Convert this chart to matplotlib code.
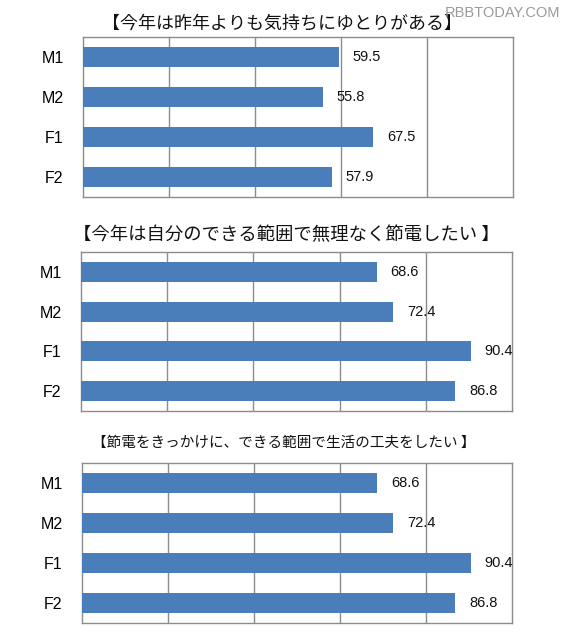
import matplotlib
matplotlib.use("Agg")
import matplotlib.pyplot as plt

categories = ["M1", "M2", "F1", "F2"]
titles = [
    "【今年は昨年よりも気持ちにゆとりがある】",
    "【今年は自分のできる範囲で無理なく節電したい 】",
    "【節電をきっかけに、できる範囲で生活の工夫をしたい 】",
]
values_1 = [59.5, 55.8, 67.5, 57.9]
values_2 = [68.6, 72.4, 90.4, 86.8]
values_3 = [68.6, 72.4, 90.4, 86.8]
series = [values_1, values_2, values_3]

W, H = 568, 640
fig = plt.figure(figsize=(W / 100, H / 100), dpi=100)
fig.patch.set_facecolor("white")

# panel boxes in pixels: left, right, top, bottom
boxes = [(83, 513, 37, 197), (81, 512, 252, 411), (82, 512, 463, 623)]
# title centers (px) and sizes (pt)
title_pos = [(282, 24, 12.95), (286, 235, 13.2), (284, 443, 10.5)]

bar_color = "#4A7EBB"
grid_color = "#8C8C8C"
jp = ["Noto Sans CJK JP", "DejaVu Sans"]

for vals, (l, r, t, b), title, (tx, ty, ts) in zip(series, boxes, titles, title_pos):
    ax = fig.add_axes([l / W, 1 - b / H, (r - l) / W, (b - t) / H])
    ypos = list(range(len(categories)))
    ax.barh(ypos, vals, height=0.5, color=bar_color, zorder=3)
    ax.set_xlim(0, 100)
    ax.set_ylim(len(categories) - 0.5, -0.5)
    ax.set_xticks([20, 40, 60, 80])
    ax.set_xticklabels([])
    ax.tick_params(axis="x", length=0)
    ax.grid(axis="x", color=grid_color, linewidth=1.0, zorder=1)
    ax.set_yticks(ypos)
    ax.set_yticklabels(categories, fontsize=11.5, family="Liberation Sans")
    ax.tick_params(axis="y", length=0, pad=14)
    for s in ax.spines.values():
        s.set_color(grid_color)
        s.set_linewidth(1.0)
    for y, v in zip(ypos, vals):
        ax.annotate(f"{v:.1f}", xy=(v, y), xytext=(10, 0), textcoords="offset points",
                    va="center", ha="left", fontsize=10.5, family="Liberation Sans",
                    color="#111111", zorder=4, annotation_clip=False)
    fig.text(tx / W, 1 - ty / H, title, ha="center", va="center", fontsize=ts,
             family=jp, color="#111111")

fig.text(560 / W, 1 - 13 / H, "RBBTODAY.COM", ha="right", va="center",
         fontsize=10.5, family="Liberation Sans", color="#9A9A9A")

fig.savefig("out.png", dpi=100, facecolor="white")
